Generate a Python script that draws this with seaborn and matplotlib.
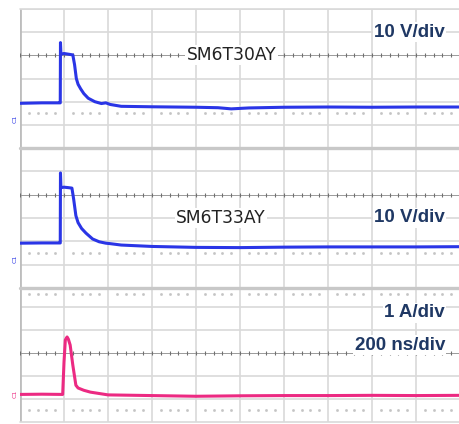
import numpy as np
import pandas as pd
import seaborn as sns
import matplotlib
matplotlib.use("Agg")
import matplotlib.pyplot as plt

sns.set_style("white")
plt.rcParams['font.family'] = ['DejaVu Sans']

# time axis in divisions (200 ns/div), amplitude in divisions
t_30ay = [0, 0.5, 0.9, 0.915, 0.92, 0.93, 1.0, 1.1, 1.2, 1.24, 1.28, 1.32, 1.38, 1.45,
          1.55, 1.7, 1.85, 1.95, 2.05, 2.3, 3.0, 4.0, 4.5, 4.8, 5.2, 6.0, 7.0, 8.0, 9.0, 10.0]
v_30ay = [1.93, 1.95, 1.95, 1.95, 4.55, 4.05, 4.08, 4.05, 4.02, 3.6, 3.0, 2.75, 2.55, 2.35,
          2.15, 2.0, 1.92, 1.95, 1.88, 1.8, 1.78, 1.76, 1.74, 1.69, 1.73, 1.76, 1.77, 1.76, 1.77, 1.77]

t_33ay = [0, 0.5, 0.9, 0.915, 0.92, 0.93, 1.0, 1.1, 1.18, 1.22, 1.27, 1.32, 1.4, 1.5,
          1.65, 1.8, 1.95, 2.05, 2.3, 3.0, 4.0, 5.0, 6.0, 7.0, 8.0, 9.0, 10.0]
v_33ay = [1.92, 1.93, 1.93, 1.93, 4.93, 4.3, 4.32, 4.3, 4.28, 3.8, 3.1, 2.8, 2.55, 2.35,
          2.1, 1.98, 1.92, 1.9, 1.84, 1.78, 1.74, 1.73, 1.75, 1.76, 1.76, 1.76, 1.77]

t_cur = [0, 0.5, 0.97, 1.0, 1.03, 1.07, 1.1, 1.14, 1.2, 1.27, 1.32, 1.45, 1.6, 2.0,
         3.0, 4.0, 5.0, 6.0, 7.0, 8.0, 9.0, 10.0]
v_cur = [1.2, 1.21, 1.2, 2.6, 3.57, 3.7, 3.6, 3.35, 2.48, 1.6, 1.48, 1.38, 1.3, 1.18,
         1.15, 1.12, 1.14, 1.15, 1.15, 1.16, 1.15, 1.16]

BLUE = "#2a35e6"
PINK = "#ec2a82"
NAVY = "#1f3864"
GRID = "#d9d9d9"

fig = plt.figure(figsize=(4.6, 4.24), dpi=100)
fig.patch.set_facecolor("white")

panels = [
    dict(rect=[20 / 460, 0.6509, 440 / 460, 139 / 424], ymax=6.0, centre=4, dots=[1.5],
         t=t_30ay, v=v_30ay, color=BLUE),
    dict(rect=[20 / 460, 0.3208, 440 / 460, 140 / 424], ymax=6.0, centre=4, dots=[1.5],
         t=t_33ay, v=v_33ay, color=BLUE),
    dict(rect=[20 / 460, 0.0047, 440 / 460, 134 / 424], ymax=5.83, centre=3, dots=[0.52, 5.55],
         t=t_cur, v=v_cur, color=PINK),
]

axes = []
for p in panels:
    ax = fig.add_axes(p["rect"])
    ax.set_xlim(0, 10)
    ax.set_ylim(0, p["ymax"])
    ax.set_xticks([])
    ax.set_yticks([])
    for sp in ax.spines.values():
        sp.set_visible(False)

    # grid
    for x in range(1, 11):
        ax.axvline(x, color=GRID, lw=1.2, zorder=0)
    for y in range(1, int(p["ymax"]) + 1):
        if y != p["centre"]:
            ax.axhline(y, color=GRID, lw=1.2, zorder=0)
    ax.axvline(0, color="#bdbdbd", lw=2.0, zorder=0)

    # centre line with small ticks
    ax.axhline(p["centre"], color="#9a9a9a", lw=0.7, zorder=0.5)
    tk = np.arange(0, 10.01, 0.2)
    ax.plot(tk, np.full_like(tk, p["centre"]), ls="none", marker="|",
            ms=2.5, color="#707070", mew=0.8, zorder=0.5)

    # dotted rows
    dx = np.array([x for x in np.arange(0.2, 10, 0.2) if abs(x - round(x)) > 0.05])
    for yd in p["dots"]:
        ax.plot(dx, np.full_like(dx, yd), ls="none", marker="s", ms=0.9,
                color="#c4c4c4", zorder=0.5)

    df = pd.DataFrame({"t": p["t"], "v": p["v"]})
    sns.lineplot(data=df, x="t", y="v", ax=ax, color=p["color"], lw=2.2,
                 estimator=None, sort=False, zorder=3)
    ax.set_xlabel("")
    ax.set_ylabel("")
    axes.append(ax)

# top border of first panel and thick separators between panels
axes[0].axhline(6.0, color=GRID, lw=1.2, zorder=0, clip_on=False)
axes[2].axhline(0.0, color=GRID, lw=1.2, zorder=0, clip_on=False)
for y in [1 - 148 / 424, 1 - 288 / 424]:
    fig.add_artist(plt.Line2D([20 / 460, 1], [y, y], color="#c8c8c8", lw=2.4,
                              transform=fig.transFigure, zorder=5))

box = dict(facecolor="white", edgecolor="none", pad=1.0)
lab = dict(family=["Liberation Sans", "DejaVu Sans"], fontweight="bold",
           fontsize=13.5, color=NAVY, ha="right", va="center", bbox=box, zorder=6)
name = dict(fontsize=12.3, color="#222222", ha="center", va="center", bbox=box, zorder=6)

axes[0].text(9.66, 5.0, "10 V/div", **lab)
axes[0].text(4.81, 4.02, "SM6T30AY", **name)
axes[1].text(9.66, 3.0, "10 V/div", **lab)
axes[1].text(4.57, 3.0, "SM6T33AY", **name)
axes[2].text(9.66, 4.75, "1 A/div", **lab)
axes[2].text(9.66, 3.35, "200 ns/div", **lab)

# channel markers
for y, c in [(1 - 119 / 424, BLUE), (1 - 259 / 424, BLUE), (1 - 394 / 424, PINK)]:
    fig.text(15 / 460, y, "C1", fontsize=4.5, color=c, rotation=90,
             ha="center", va="center")

fig.savefig("out.png", dpi=100)
